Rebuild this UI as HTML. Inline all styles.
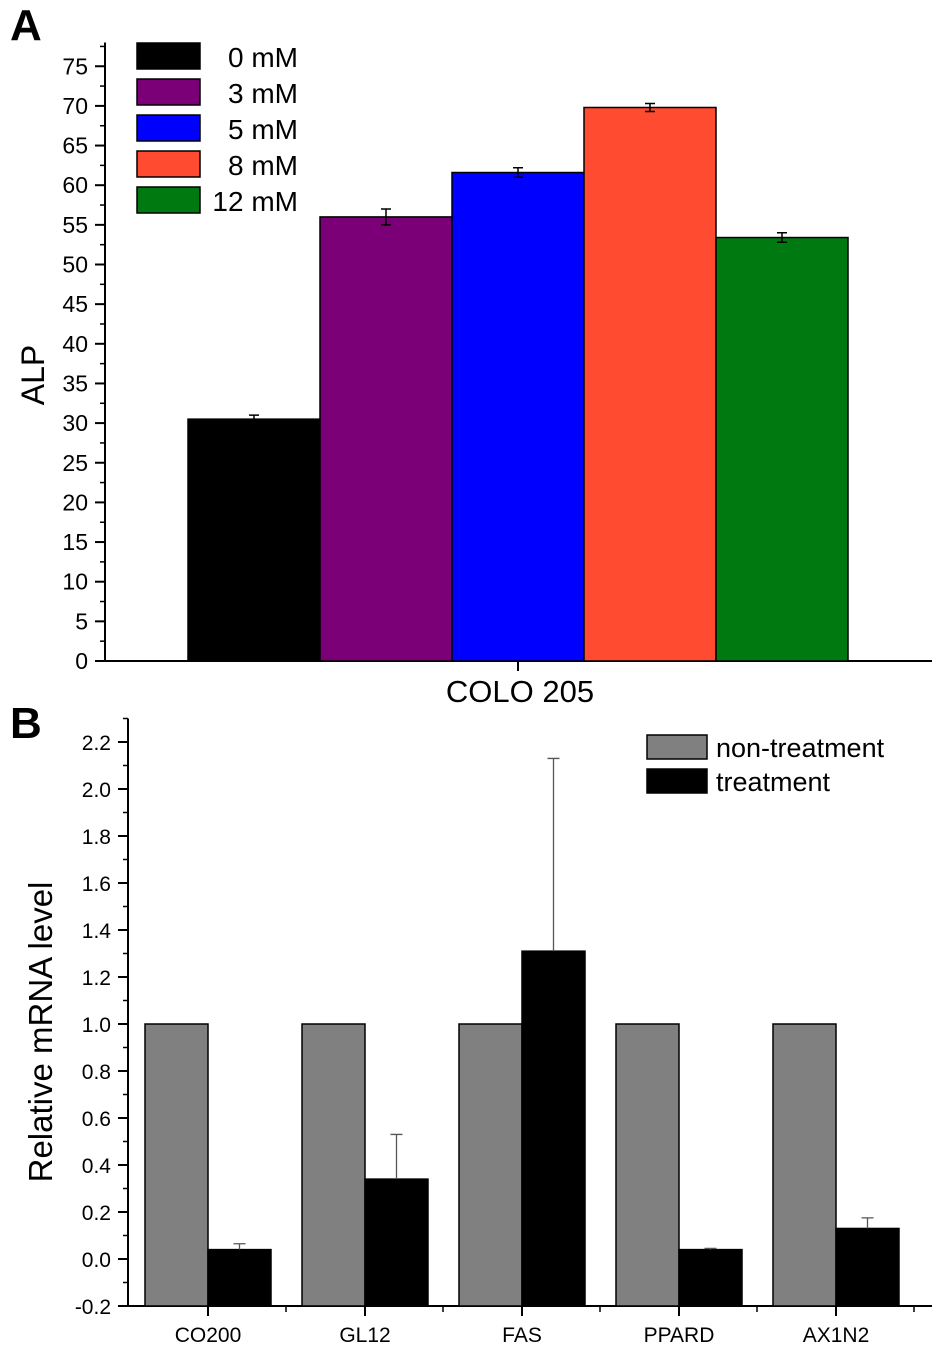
<!DOCTYPE html>
<html><head><meta charset="utf-8"><style>
body{margin:0;background:#fff}
svg{display:block;font-family:"Liberation Sans",Arial,sans-serif}
</style></head><body>
<svg id="fig" width="945" height="1356" viewBox="0 0 945 1356">
<text x="10" y="40" font-size="44" font-weight="bold">A</text>
<text x="10" y="738" font-size="44" font-weight="bold">B</text>
<g id="A"></g><g id="B"></g>
</svg>
<script>
const NS="http://www.w3.org/2000/svg";
function mk(p,t,a,txt){const e=document.createElementNS(NS,t);for(const k in a)e.setAttribute(k,a[k]);if(txt!==undefined)e.textContent=txt;p.appendChild(e);return e;}

// Panel A data
const aCats=["0 mM","3 mM","5 mM","8 mM","12 mM"];
const aVals=[30.5,56,61.6,69.8,53.4];
const aErrs=[0.5,1.0,0.6,0.5,0.6];
const aColors=["#000000","#7b0077","#0000ff","#ff4b30","#007a10"];
const aTicks=[0,5,10,15,20,25,30,35,40,45,50,55,60,65,70,75];

// Panel B data
const bCats=["CO200","GL12","FAS","PPARD","AX1N2"];
const bNon=[1,1,1,1,1];
const bTreat=[0.04,0.34,1.31,0.04,0.13];
const bErr=[0.025,0.19,0.82,0.005,0.045];
const bTicks=[-0.2,0,0.2,0.4,0.6,0.8,1.0,1.2,1.4,1.6,1.8,2.0,2.2];

(function(){
const g=document.getElementById("A");
const y=v=>661-v*7.93, x0=105, bw=132, bx=i=>188+i*bw;
mk(g,"line",{x1:x0,y1:y(0),x2:932,y2:y(0),stroke:"#000","stroke-width":2,});
mk(g,"line",{x1:x0,y1:y(0)+1,x2:x0,y2:y(78),stroke:"#000","stroke-width":2,});
aTicks.forEach(t=>{
 const tk=mk(g,"line",{x1:x0-10,y1:y(t),x2:x0,y2:y(t),stroke:"#000","stroke-width":2});
 
 const mn=mk(g,"line",{x1:x0-5,y1:y(t+2.5),x2:x0,y2:y(t+2.5),stroke:"#000","stroke-width":1.5});
 
 const lb=mk(g,"text",{x:x0-17,y:y(t)+8,"font-size":23,"text-anchor":"end"},String(t));
 
});
mk(g,"line",{x1:518,y1:y(0),x2:518,y2:y(0)+10,stroke:"#000","stroke-width":2,});
mk(g,"text",{x:520,y:702,"font-size":31,"text-anchor":"middle",},"COLO 205");
mk(g,"text",{x:44,y:375,"font-size":32,"text-anchor":"middle",transform:"rotate(-90 44 375)",},"ALP");
aVals.forEach((v,i)=>{
 const r=mk(g,"rect",{x:bx(i),y:y(v),width:bw,height:y(0)-y(v),fill:aColors[i],stroke:"#000","stroke-width":1.5});
 
 const cx=bx(i)+bw/2,t=y(v+aErrs[i]),b=y(v-aErrs[i]);
 const e=mk(g,"path",{d:`M${cx},${t}V${b}M${cx-5},${t}H${cx+5}M${cx-5},${b}H${cx+5}`,stroke:"#000","stroke-width":1.5,fill:"none"});
 
 const ly=43+i*36;
 const lr=mk(g,"rect",{x:137,y:ly,width:63,height:26,fill:aColors[i],stroke:"#000","stroke-width":1.5});
 
 const lt=mk(g,"text",{x:298,y:ly+24,"font-size":28,"text-anchor":"end"},aCats[i]);
 
});
})();

(function(){
const g=document.getElementById("B");
const y=v=>1259-v*235, x0=128, bw=63, cx=i=>208+i*157;
const base=y(-0.2);
mk(g,"line",{x1:x0,y1:base,x2:932,y2:base,stroke:"#000","stroke-width":2,});
mk(g,"line",{x1:x0,y1:base+1,x2:x0,y2:y(2.3),stroke:"#000","stroke-width":2,});
bTicks.forEach(t=>{
 const tk=mk(g,"line",{x1:x0-10,y1:y(t),x2:x0,y2:y(t),stroke:"#000","stroke-width":2});
 
 const mn=mk(g,"line",{x1:x0-5,y1:y(t+0.1),x2:x0,y2:y(t+0.1),stroke:"#000","stroke-width":1.5});
 
 const lb=mk(g,"text",{x:x0-17,y:y(t)+8,"font-size":21,"text-anchor":"end"},t.toFixed(1));
 
});
mk(g,"text",{x:52,y:1032,"font-size":33,"text-anchor":"middle",transform:"rotate(-90 52 1032)",},"Relative mRNA level");
bCats.forEach((c,i)=>{
 const c0=cx(i);
 const tk=mk(g,"line",{x1:c0,y1:base,x2:c0,y2:base+10,stroke:"#000","stroke-width":2});
 
 const mt=mk(g,"line",{x1:c0+78,y1:base,x2:c0+78,y2:base+6,stroke:"#000","stroke-width":1.5});
 
 const lb=mk(g,"text",{x:c0,y:1342,"font-size":21,"text-anchor":"middle"},c);
 
 const r1=mk(g,"rect",{x:c0-bw,y:y(bNon[i]),width:bw,height:base-y(bNon[i]),fill:"#808080",stroke:"#000","stroke-width":1.5});
 
 const r2=mk(g,"rect",{x:c0,y:y(bTreat[i]),width:bw,height:base-y(bTreat[i]),fill:"#000",stroke:"#000","stroke-width":1.5});
 
 const ex=c0+bw/2,t=y(bTreat[i]+bErr[i]);
 const e=mk(g,"path",{d:`M${ex},${y(bTreat[i])}V${t}M${ex-6},${t}H${ex+6}`,stroke:"#555","stroke-width":1.3,fill:"none"});
 
});
const lg=[["non-treatment","#808080"],["treatment","#000"]];
lg.forEach((l,i)=>{
 const ly=735+i*34;
 const r=mk(g,"rect",{x:647,y:ly,width:60,height:24,fill:l[1],stroke:"#000","stroke-width":1.5});
 
 const t=mk(g,"text",{x:716,y:ly+22,"font-size":27},l[0]);
 
});
})();
</script>
</body></html>
